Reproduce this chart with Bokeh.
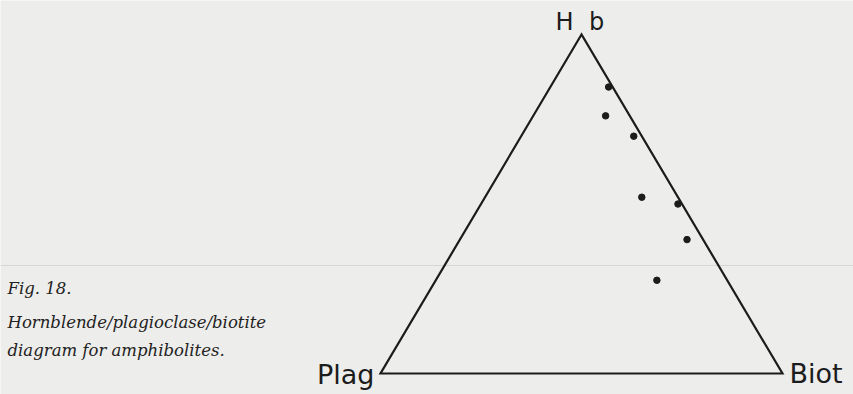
from bokeh.plotting import figure
from bokeh.models import Range1d, Label, ColumnDataSource
from bokeh.embed import file_html
from bokeh.resources import INLINE

# Modal composition of amphibolites (percent)
hornblende  = [84.5, 76.0, 70.0, 52.0, 50.0, 39.5, 27.5]
plagioclase = [1.0, 6.0, 2.0, 9.0, 1.0, 4.0, 17.5]
biotite     = [14.5, 18.0, 28.0, 39.0, 49.0, 56.5, 55.0]

apex_labels = ["H", "b", "Plag", "Biot"]
caption = ["Fig.  18.", "Hornblende/plagioclase/biotite", "diagram  for  amphibolites."]

W, H = 853, 394
PAPER = "#ededeb"
INK = "#1c1c1c"


def ternary_xy(hb, pl, bi):
    """Plag at (0,0), Biot at (1,0), Hb at (0.5,1)."""
    tot = hb + pl + bi
    return bi / tot + 0.5 * hb / tot, hb / tot


# triangle side 402 px wide, 339 px high; Plag corner at (380, 373) px
sx, sy = 402.0, 339.0
x0, y0 = 380.0, 373.0
p = figure(width=W, height=H, output_backend="svg", toolbar_location=None,
           x_range=Range1d(-x0 / sx, (W - x0) / sx),
           y_range=Range1d(-(H - y0) / sy, y0 / sy),
           x_axis_location=None, y_axis_location=None,
           min_border=0, outline_line_color=None,
           background_fill_color=PAPER, border_fill_color=PAPER)
p.xgrid.visible = False
p.ygrid.visible = False

# faint crease across the page
p.line([-x0 / sx, (W - x0) / sx], [(y0 - 265) / sy] * 2,
       line_color="#d6d6d4", line_width=1.2)

# triangle frame
corners = [ternary_xy(100, 0, 0), ternary_xy(0, 100, 0), ternary_xy(0, 0, 100)]
p.patch([c[0] for c in corners], [c[1] for c in corners],
        fill_alpha=0, line_color=INK, line_width=2.2, line_join="miter")

# samples
pts = [ternary_xy(a, b, c) for a, b, c in zip(hornblende, plagioclase, biotite)]
src = ColumnDataSource(dict(x=[q[0] for q in pts], y=[q[1] for q in pts]))
p.scatter("x", "y", source=src, size=6.5, fill_color=INK, line_color=INK)

# corner labels (the apex label is letter-spaced)
lab_kw = dict(text_font="DejaVu Sans", text_color=INK, text_baseline="alphabetic",
              x_units="screen", y_units="screen")
p.add_layout(Label(x=564, y=H - 21, text=apex_labels[0], text_align="center",
                   text_font_size="24px", **lab_kw))
p.add_layout(Label(x=596, y=H - 21, text=apex_labels[1], text_align="center",
                   text_font_size="24px", **lab_kw))
p.add_layout(Label(x=374, y=H - 374, text=apex_labels[2], text_align="right",
                   text_font_size="27px", **lab_kw))
p.add_layout(Label(x=789, y=H - 373, text=apex_labels[3], text_align="left",
                   text_font_size="27px", **lab_kw))

# figure caption
cap_kw = dict(text_font="DejaVu Serif", text_font_style="italic", text_color="#222222",
              text_baseline="alphabetic", text_align="left",
              x_units="screen", y_units="screen", text_font_size="16.5px")
for txt, base in zip(caption, [288, 322, 350]):
    p.add_layout(Label(x=7, y=H - base, text=txt, **cap_kw))

open("out.html", "w").write(file_html(p, INLINE))
